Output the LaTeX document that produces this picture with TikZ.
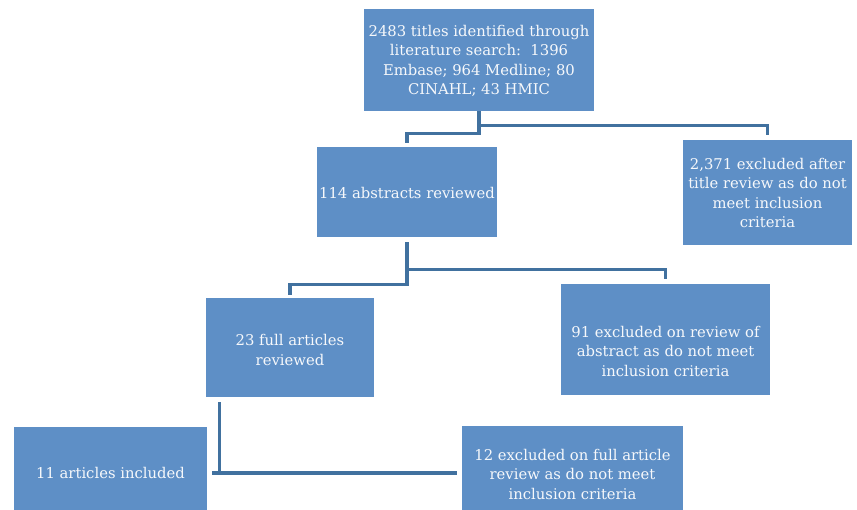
\documentclass[tikz,border=0pt]{standalone}
\usepackage{fontspec}
\setmainfont{DejaVu Serif}
\definecolor{boxblue}{HTML}{5E8FC6}
\definecolor{lineblue}{HTML}{41719F}
\definecolor{txtwhite}{HTML}{F6F8FB}
\begin{document}
\begin{tikzpicture}[x=1pt,y=-1pt,
  box/.style={draw=none, fill=boxblue, inner sep=0pt},
  boxtext/.style={text=txtwhite, align=center, inner sep=0pt, font=\fontsize{14.8}{19.5}\selectfont},
  conn/.style={draw=lineblue, line width=3.2pt}]
\useasboundingbox (0,0) rectangle (857,510);
\clip (0,0) rectangle (857,510);

% boxes
\node[box, minimum width=230pt, minimum height=102pt] (b1) at (479,60) {};
\node[boxtext] (t1) at (479,61) {2483 titles identified through\\literature search:\ \ 1396\\Embase; 964 Medline; 80\\CINAHL; 43 HMIC};

\node[box, minimum width=180pt, minimum height=90pt] (b2) at (407,192) {};
\node[boxtext] (t2) at (407,193) {114 abstracts reviewed};

\node[box, minimum width=169pt, minimum height=105pt] (b3) at (767.5,192.5) {};
\node[boxtext] (t3) at (767.5,193) {2,371 excluded after\\title review as do not\\meet inclusion\\criteria};

\node[box, minimum width=168pt, minimum height=99pt] (b4) at (290,347.5) {};
\node[boxtext] (t4) at (290,350) {23 full articles\\reviewed};

\node[box, minimum width=209pt, minimum height=111pt] (b5) at (665.5,339.5) {};
\node[boxtext] (t5) at (665.5,351) {91 excluded on review of\\abstract as do not meet\\inclusion criteria};

\node[box, minimum width=193pt, minimum height=92pt] (b6) at (110.5,473) {};
\node[boxtext] (t6) at (110.5,473) {11 articles included};

\node[box, minimum width=221pt, minimum height=94pt] (b7) at (572.5,473) {};
\node[boxtext] (t7) at (572.5,474) {12 excluded on full article\\review as do not meet\\inclusion criteria};

% connectors
\draw[conn] (b1.south) -- ++(0,22) -| ([yshift=4pt]b2.north);
\draw[conn] ([yshift=-14pt]b1.south) -| ([yshift=5pt]b3.north);

\draw[conn] ([yshift=-5pt]b2.south) -- ++(0,42) -| ([yshift=3pt]b4.north);
\draw[conn] ([yshift=-32pt]b2.south) -| ([yshift=5pt]b5.north);

\draw[conn] ([xshift=5pt]b6.east) -- ([xshift=-5pt]b7.west);
\draw[conn] ([xshift=14pt,yshift=-5pt]b4.south west) |- ([xshift=13pt]b6.east);
\end{tikzpicture}
\end{document}
